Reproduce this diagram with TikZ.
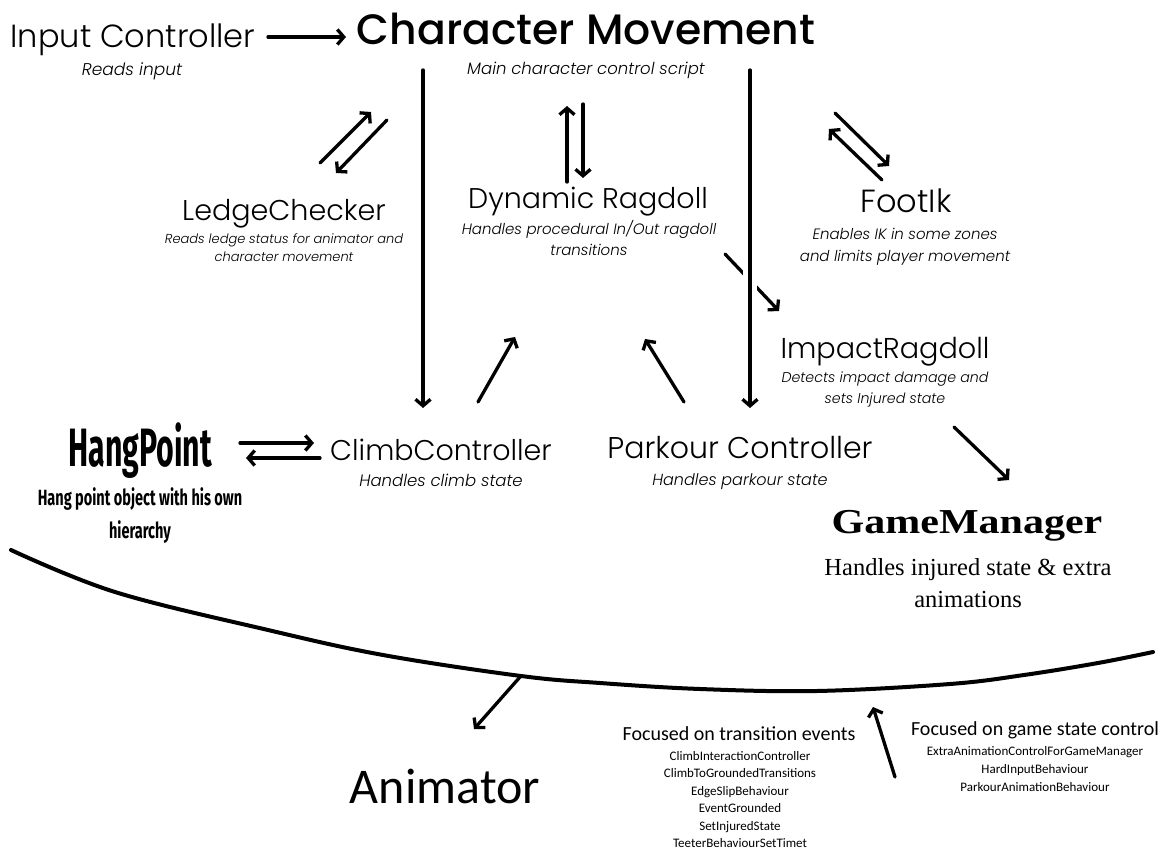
\documentclass[tikz,border=0pt]{standalone}
\usepackage{fontspec}
\usetikzlibrary{arrows.meta,calc}
\setmainfont{Poppins}
\newfontfamily\plight{Poppins Light}
\newfontfamily\plightit{Poppins Light Italic}
\newfontfamily\psemi{Poppins Medium}
\newfontfamily\condbold[FakeStretch=0.56]{Fira Sans}
\newfontfamily\condboldd[FakeStretch=0.66]{Fira Sans}
\newfontfamily\gmwide[FakeStretch=1.2]{Liberation Serif}
\newfontfamily\gmserif{Liberation Serif}
\newfontfamily\carl{Carlito}
\newcommand\fs[2]{\fontsize{#1}{#2}\selectfont}
\tikzset{
  lbl/.style={inner sep=0, anchor=base, font=\plight\fs{29}{34}},
  dsc/.style={inner sep=0, anchor=base, align=center, font=\plightit\fs{15}{21}},
  arr/.style={line width=3.3pt, line cap=round, -{Straight Barb[length=6.5pt,width=15pt]}},
}
\begin{document}
\begin{tikzpicture}[x=1pt,y=-1pt]
\useasboundingbox[fill=white] (0,0) rectangle (1160,853);

% ---------- nodes (multi-line nodes are placed at the baseline of their last line) ----------
\node[lbl, font=\plight\fs{32}{36}] (input) at (133,48) {Input Controller};
\node[dsc, font=\plightit\fs{17}{21}] (inputd) at (132,76) {Reads input};
\node[inner sep=0, anchor=base, font=\psemi\fs{42.5}{48}] (cm) at (586,45) {Character Movement};
\node[dsc, font=\plightit\fs{16.5}{21}] (cmd) at (586,75) {Main character control script};

\node[lbl, font=\plight\fs{28.6}{34}] (ledge) at (284,221) {LedgeChecker};
\node[dsc, font=\plightit\fs{13}{18}] (ledged) at (284,262) {Reads ledge status for animator and\\character movement};
\node[lbl, font=\plight\fs{28.5}{34}] (dyn) at (588,209) {Dynamic Ragdoll};
\node[dsc, font=\plightit\fs{15}{21}] (dynd) at (589,256) {Handles procedural In/Out ragdoll\\transitions};
\node[lbl, font=\plight\fs{32}{34}] (foot) at (906,213) {FootIk};
\node[dsc, font=\plightit\fs{15}{22}] (footd) at (905,262) {Enables IK in some zones\\and limits player movement};
\node[lbl, font=\plight\fs{28.7}{34}] (impact) at (885,358) {ImpactRagdoll};
\node[dsc, font=\plightit\fs{14.2}{21}] (impactd) at (885,403) {Detects impact damage and\\sets Injured state};

\node[lbl, font=\plight\fs{28.5}{34}] (climb) at (441,460) {ClimbController};
\node[dsc, font=\plightit\fs{16.5}{21}] (climbd) at (441,486) {Handles climb state};
\node[lbl, font=\plight\fs{30}{34}] (parkour) at (740,458) {Parkour Controller};
\node[dsc, font=\plightit\fs{16}{21}] (parkourd) at (740,485) {Handles parkour state};

\node[inner sep=0, anchor=base, font=\condbold\bfseries\fs{54}{56}] (hang) at (140,466) {HangPoint};
\node[inner sep=0, anchor=base, align=center, font=\condboldd\bfseries\fs{22}{33}] (hangd) at (140,538) {Hang point object with his own\\hierarchy};

\node[inner sep=0, anchor=base, font=\gmwide\bfseries\fs{35}{40}] (gm) at (967,533) {GameManager};
\node[inner sep=0, anchor=base, align=center, font=\gmserif\fs{24.5}{32}] (gmd) at (968,607) {Handles injured state \& extra\\animations};

\node[inner sep=0, anchor=base, font=\carl\fs{50}{54}] (anim) at (445,803) {Animator};

\node[inner sep=0, anchor=base, font=\carl\fs{20}{24}] (trans) at (739,740) {Focused on transition events};
\node[inner sep=0, anchor=base, align=center, font=\carl\fs{13}{17.5}] (transl) at (740,847.5) {ClimbInteractionController\\ClimbToGroundedTransitions\\EdgeSlipBehaviour\\EventGrounded\\SetInjuredState\\TeeterBehaviourSetTimet};
\node[inner sep=0, anchor=base, font=\carl\fs{20}{24}] (gs) at (1035,735) {Focused on game state control};
\node[inner sep=0, anchor=base, align=center, font=\carl\fs{13}{18}] (gsl) at (1035,791) {ExtraAnimationControlForGameManager\\HardInputBehaviour\\ParkourAnimationBehaviour};

% ---------- arrow end points ----------
\coordinate (ic1) at (268,37);  \coordinate (ic2) at (346,37);
\coordinate (vl1) at (423,70);  \coordinate (vl2) at (423,408);
\coordinate (vr1) at (750,70);  \coordinate (vr2) at (750,408);
\coordinate (cu1) at (567,182); \coordinate (cu2) at (567,106);
\coordinate (cd1) at (583,104); \coordinate (cd2) at (583,178);
\coordinate (la1) at (320,163); \coordinate (la2) at (371,112);
\coordinate (lb1) at (387,120); \coordinate (lb2) at (336,173);
\coordinate (fa1) at (835,113); \coordinate (fa2) at (889,166);
\coordinate (fb1) at (882,180); \coordinate (fb2) at (829,129);
\coordinate (di1) at (725,254); \coordinate (di2) at (779,311);
\coordinate (cl1) at (478,402); \coordinate (cl2) at (515,337);
\coordinate (pk1) at (684,402); \coordinate (pk2) at (645,339);
\coordinate (ha1) at (240,443); \coordinate (ha2) at (314,443);
\coordinate (hb1) at (320,458); \coordinate (hb2) at (246,458);
\coordinate (ig1) at (954,427); \coordinate (ig2) at (1009,480);
\coordinate (an1) at (520,677); \coordinate (an2) at (474,729);
\coordinate (up1) at (895,777); \coordinate (up2) at (873,707);

% ---------- connectors ----------
\draw[arr] (ic1) -- (ic2);
\draw[arr] (vl1) -- (vl2);
\draw[arr] (cu1) -- (cu2);
\draw[arr] (cd1) -- (cd2);
\draw[arr] (la1) -- (la2);
\draw[arr] (lb1) -- (lb2);
\draw[arr] (fa1) -- (fa2);
\draw[arr] (fb1) -- (fb2);
\draw[arr] (di1) -- (di2);
\draw[white, line width=14pt] ($(vr1)+(0,195)$) -- ($(vr1)+(0,225)$);
\draw[arr] (vr1) -- (vr2);
\draw[arr] (cl1) -- (cl2);
\draw[arr] (pk1) -- (pk2);
\draw[arr] (ha1) -- (ha2);
\draw[arr] (hb1) -- (hb2);
\draw[arr] (ig1) -- (ig2);

% ---------- dividing curve ----------
\draw[line width=4pt, line cap=round] plot[smooth, tension=0.6] coordinates {(11,550) (115,592) (268,630) (383,655) (521,676) (600,683) (700,689) (817,691) (950,684) (1024,675) (1098,663) (1153,652)};

\draw[arr] (an1) -- (an2);
\draw[arr] (up1) -- (up2);
\end{tikzpicture}
\end{document}
